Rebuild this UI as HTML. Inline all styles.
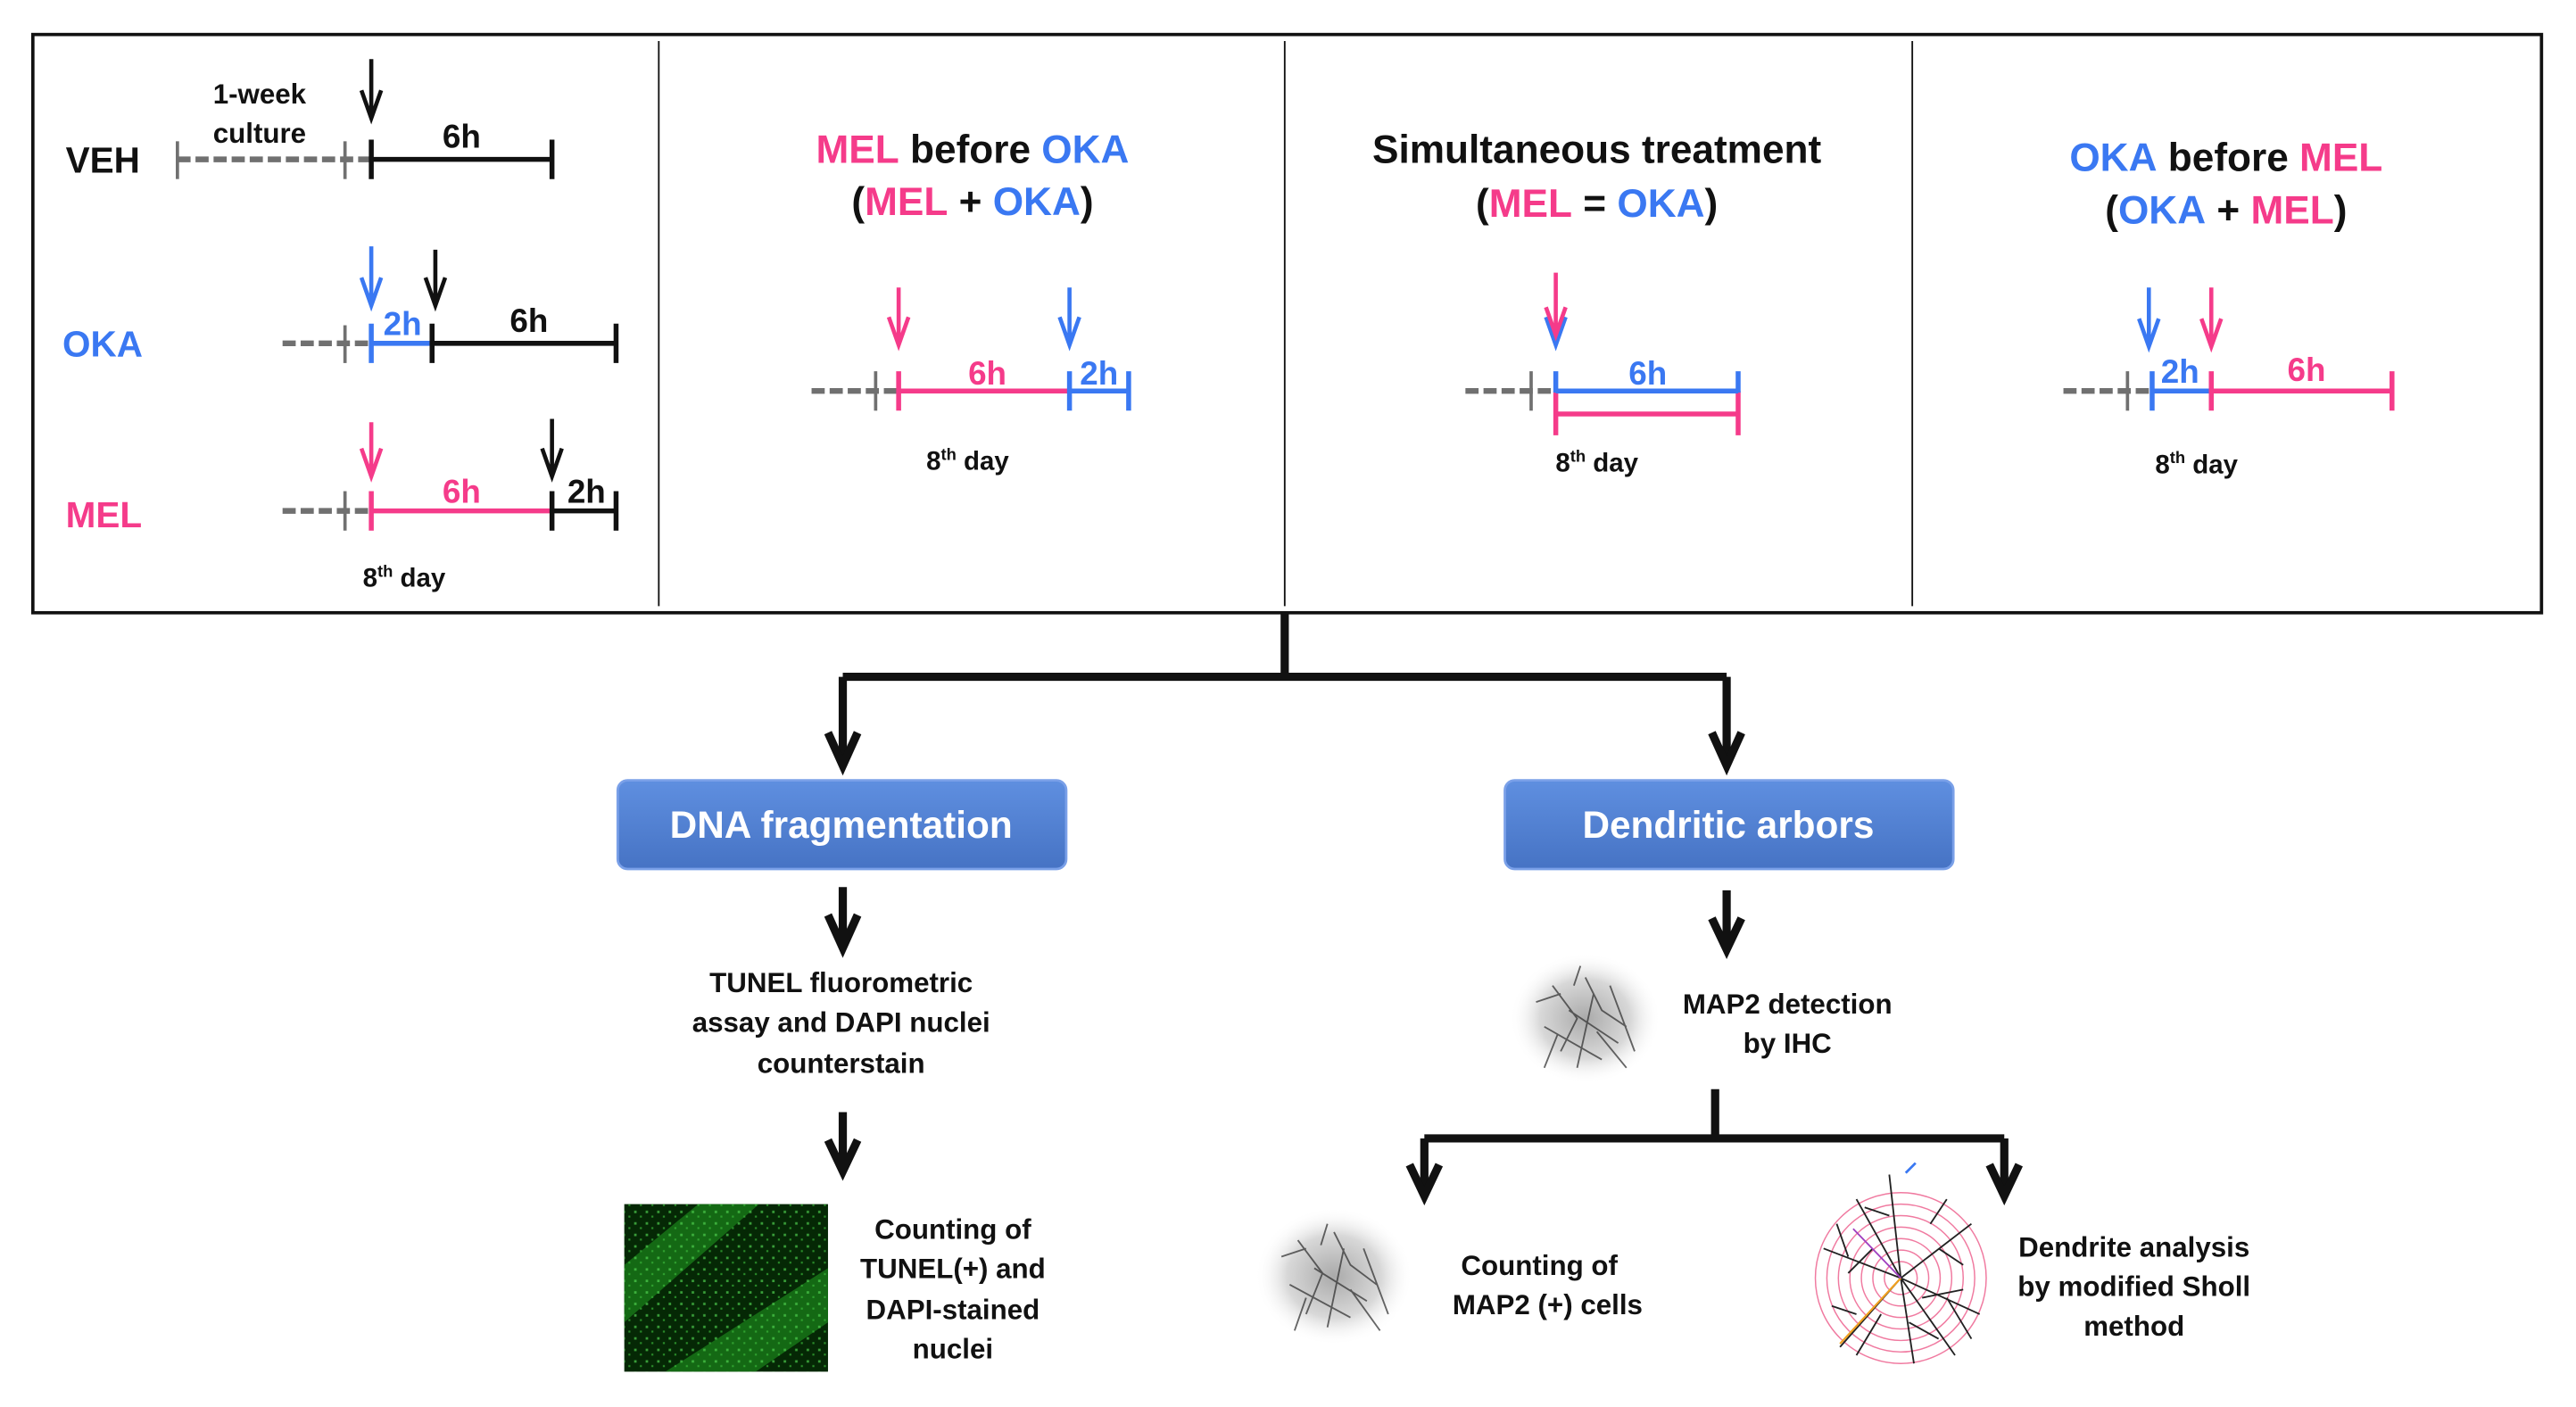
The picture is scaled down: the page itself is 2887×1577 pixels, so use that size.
<!DOCTYPE html>
<html><head><meta charset="utf-8"><style>
html,body{margin:0;padding:0;background:#fff;}
svg{display:block}
text{font-family:"Liberation Sans",Arial,sans-serif;font-weight:bold;}
</style></head><body>
<svg width="2887" height="1577" viewBox="0 0 1568 856.5" xmlns="http://www.w3.org/2000/svg">
<defs>
<linearGradient id="bx" x1="0" y1="0" x2="0" y2="1">
<stop offset="0" stop-color="#5f8fe0"/><stop offset="1" stop-color="#4673c4"/></linearGradient>
<radialGradient id="blob" cx="0.5" cy="0.5" r="0.5">
<stop offset="0" stop-color="#aaa"/><stop offset="0.6" stop-color="#d8d8d8"/><stop offset="1" stop-color="#fff" stop-opacity="0"/></radialGradient>
<pattern id="spk" width="7" height="7" patternUnits="userSpaceOnUse">
<rect x="1" y="2" width="1.5" height="1.5" fill="#4fd04f"/><rect x="4.5" y="5" width="1.2" height="1.2" fill="#3ab83a"/></pattern>
</defs>
<rect x="0" y="0" width="1568" height="856.5" fill="#fff"/>
<rect x="20" y="21" width="1527" height="352" fill="none" stroke="#111" stroke-width="2"/>
<g stroke="#111" stroke-width="1"><line x1="401" y1="25" x2="401" y2="369"/><line x1="782" y1="25" x2="782" y2="369"/><line x1="1164" y1="25" x2="1164" y2="369"/></g>

<g font-size="22"><text x="40" y="105" fill="#111">VEH</text><text x="38" y="217" fill="#3a78f2">OKA</text><text x="40" y="321" fill="#f53b8a">MEL</text></g>
<g font-size="17" text-anchor="middle" fill="#111"><text x="158" y="63">1-week</text><text x="158" y="87">culture</text></g>
<g stroke-width="3" fill="none">
<line x1="108" y1="97" x2="226" y2="97" stroke="#707070" stroke-width="3.5" stroke-dasharray="8,3"/>
<line x1="108" y1="86" x2="108" y2="109" stroke="#707070" stroke-width="2"/>
<line x1="210" y1="86" x2="210" y2="109" stroke="#707070" stroke-width="2"/>
<line x1="226" y1="97" x2="336" y2="97" stroke="#111"/>
<line x1="226" y1="85" x2="226" y2="109" stroke="#111"/>
<line x1="336" y1="85" x2="336" y2="109" stroke="#111"/>
<line x1="172" y1="209" x2="226" y2="209" stroke="#707070" stroke-width="3.5" stroke-dasharray="8,3"/>
<line x1="210" y1="198" x2="210" y2="221" stroke="#707070" stroke-width="2"/>
<line x1="226" y1="209" x2="263" y2="209" stroke="#3a78f2"/>
<line x1="226" y1="197" x2="226" y2="221" stroke="#3a78f2"/>
<line x1="263" y1="209" x2="375" y2="209" stroke="#111"/>
<line x1="263" y1="197" x2="263" y2="221" stroke="#111"/>
<line x1="375" y1="197" x2="375" y2="221" stroke="#111"/>
<line x1="172" y1="311" x2="226" y2="311" stroke="#707070" stroke-width="3.5" stroke-dasharray="8,3"/>
<line x1="210" y1="299" x2="210" y2="323" stroke="#707070" stroke-width="2"/>
<line x1="226" y1="311" x2="336" y2="311" stroke="#f53b8a"/>
<line x1="226" y1="299" x2="226" y2="323" stroke="#f53b8a"/>
<line x1="336" y1="311" x2="375" y2="311" stroke="#111"/>
<line x1="336" y1="299" x2="336" y2="323" stroke="#111"/>
<line x1="375" y1="299" x2="375" y2="323" stroke="#111"/>
</g>
<g font-size="20" text-anchor="middle">
<text x="281" y="90" fill="#111">6h</text>
<text x="245" y="204" fill="#3a78f2">2h</text><text x="322" y="202" fill="#111">6h</text>
<text x="281" y="306" fill="#f53b8a">6h</text><text x="357" y="306" fill="#111">2h</text>
</g>
<text x="246" y="357" font-size="16" text-anchor="middle" fill="#111">8<tspan font-size="10" dy="-6">th</tspan><tspan dy="6"> day</tspan></text>
<g fill="none" stroke-width="2.5">
<path d="M226 36V70M220 55L226 72L232 55" stroke="#111"/>
<path d="M226 150V184M220 169L226 186L232 169" stroke="#3a78f2"/>
<path d="M265 152V184M259 169L265 186L271 169" stroke="#111"/>
<path d="M226 257V288M220 273L226 290L232 273" stroke="#f53b8a"/>
<path d="M336 255V288M330 273L336 290L342 273" stroke="#111"/>
</g>

<g font-size="24" text-anchor="middle">
<text x="592" y="99"><tspan fill="#f53b8a">MEL</tspan><tspan fill="#111"> before </tspan><tspan fill="#3a78f2">OKA</tspan></text>
<text x="592" y="131"><tspan fill="#111">(</tspan><tspan fill="#f53b8a">MEL</tspan><tspan fill="#111"> + </tspan><tspan fill="#3a78f2">OKA</tspan><tspan fill="#111">)</tspan></text>
</g>
<g stroke-width="3" fill="none">
<line x1="494" y1="238" x2="547" y2="238" stroke="#707070" stroke-width="3.5" stroke-dasharray="8,3"/>
<line x1="533" y1="226" x2="533" y2="250" stroke="#707070" stroke-width="2"/>
<line x1="547" y1="238" x2="651" y2="238" stroke="#f53b8a"/>
<line x1="547" y1="226" x2="547" y2="250" stroke="#f53b8a"/>
<line x1="651" y1="238" x2="687" y2="238" stroke="#3a78f2"/>
<line x1="651" y1="226" x2="651" y2="250" stroke="#3a78f2"/>
<line x1="687" y1="226" x2="687" y2="250" stroke="#3a78f2"/>
</g>
<g font-size="20" text-anchor="middle"><text x="601" y="234" fill="#f53b8a">6h</text><text x="669" y="234" fill="#3a78f2">2h</text></g>
<g fill="none" stroke-width="2.5">
<path d="M547 175V208M541 193L547 210L553 193" stroke="#f53b8a"/>
<path d="M651 175V208M645 193L651 210L657 193" stroke="#3a78f2"/>
</g>
<text x="589" y="286" font-size="16" text-anchor="middle" fill="#111">8<tspan font-size="10" dy="-6">th</tspan><tspan dy="6"> day</tspan></text>

<g font-size="24" text-anchor="middle">
<text x="972" y="99" fill="#111">Simultaneous treatment</text>
<text x="972" y="132"><tspan fill="#111">(</tspan><tspan fill="#f53b8a">MEL</tspan><tspan fill="#111"> = </tspan><tspan fill="#3a78f2">OKA</tspan><tspan fill="#111">)</tspan></text>
</g>
<g stroke-width="3" fill="none">
<line x1="892" y1="238" x2="947" y2="238" stroke="#707070" stroke-width="3.5" stroke-dasharray="8,3"/>
<line x1="932" y1="226" x2="932" y2="250" stroke="#707070" stroke-width="2"/>
<line x1="947" y1="252" x2="1058" y2="252" stroke="#f53b8a"/>
<line x1="947" y1="238" x2="947" y2="265" stroke="#f53b8a"/>
<line x1="1058" y1="238" x2="1058" y2="265" stroke="#f53b8a"/>
<line x1="947" y1="238" x2="1058" y2="238" stroke="#3a78f2"/>
<line x1="947" y1="226" x2="947" y2="239" stroke="#3a78f2"/>
<line x1="1058" y1="226" x2="1058" y2="239" stroke="#3a78f2"/>
</g>
<text x="1003" y="234" font-size="20" text-anchor="middle" fill="#3a78f2">6h</text>
<g fill="none" stroke-width="2.5">
<path d="M941 193L947 210L953 193" stroke="#3a78f2"/>
<path d="M947 166V204M941 187L947 204L953 187" stroke="#f53b8a"/>
</g>
<text x="972" y="287" font-size="16" text-anchor="middle" fill="#111">8<tspan font-size="10" dy="-6">th</tspan><tspan dy="6"> day</tspan></text>

<g font-size="24" text-anchor="middle">
<text x="1355" y="104"><tspan fill="#3a78f2">OKA</tspan><tspan fill="#111"> before </tspan><tspan fill="#f53b8a">MEL</tspan></text>
<text x="1355" y="136"><tspan fill="#111">(</tspan><tspan fill="#3a78f2">OKA</tspan><tspan fill="#111"> + </tspan><tspan fill="#f53b8a">MEL</tspan><tspan fill="#111">)</tspan></text>
</g>
<g stroke-width="3" fill="none">
<line x1="1256" y1="238" x2="1310" y2="238" stroke="#707070" stroke-width="3.5" stroke-dasharray="8,3"/>
<line x1="1295" y1="226" x2="1295" y2="250" stroke="#707070" stroke-width="2"/>
<line x1="1310" y1="238" x2="1346" y2="238" stroke="#3a78f2"/>
<line x1="1310" y1="226" x2="1310" y2="250" stroke="#3a78f2"/>
<line x1="1346" y1="238" x2="1456" y2="238" stroke="#f53b8a"/>
<line x1="1346" y1="226" x2="1346" y2="250" stroke="#f53b8a"/>
<line x1="1456" y1="226" x2="1456" y2="250" stroke="#f53b8a"/>
</g>
<g font-size="20" text-anchor="middle"><text x="1327" y="233" fill="#3a78f2">2h</text><text x="1404" y="232" fill="#f53b8a">6h</text></g>
<g fill="none" stroke-width="2.5">
<path d="M1308 175V209M1302 194L1308 211L1314 194" stroke="#3a78f2"/>
<path d="M1346 175V209M1340 194L1346 211L1352 194" stroke="#f53b8a"/>
</g>
<text x="1337" y="288" font-size="16" text-anchor="middle" fill="#111">8<tspan font-size="10" dy="-6">th</tspan><tspan dy="6"> day</tspan></text>

<g fill="none" stroke="#111" stroke-width="5">
<path d="M782 373V412M513 412H1051M513 412V464M1051 412V464"/>
<path d="M504 446L513 466L522 446M1042 446L1051 466L1060 446"/>
<path d="M513 540V575M504 557L513 577L522 557"/>
<path d="M1051 542V576M1042 559L1051 578L1060 559"/>
<path d="M513 677V711M504 694L513 713L522 694"/>
<path d="M1044 663V693M867 693H1220M867 693V726M1220 693V726"/>
<path d="M858 709L867 728L876 709M1211 709L1220 728L1229 709"/>
</g>

<rect x="376" y="475" width="273" height="54" rx="6" fill="url(#bx)" stroke="#7aa0e8" stroke-width="1.5"/>
<rect x="916" y="475" width="273" height="54" rx="6" fill="url(#bx)" stroke="#7aa0e8" stroke-width="1.5"/>
<g font-size="23" fill="#fff" text-anchor="middle"><text x="512" y="510">DNA fragmentation</text><text x="1052" y="510">Dendritic arbors</text></g>

<g font-size="17" fill="#111" text-anchor="middle">
<text x="512" y="604">TUNEL fluorometric</text><text x="512" y="628">assay and DAPI nuclei</text><text x="512" y="653">counterstain</text>
<text x="580" y="754">Counting of</text><text x="580" y="778">TUNEL(+) and</text><text x="580" y="803">DAPI-stained</text><text x="580" y="827">nuclei</text>
<text x="1088" y="617">MAP2 detection</text><text x="1088" y="641">by IHC</text>
<text x="937" y="776">Counting of</text><text x="942" y="800">MAP2 (+) cells</text>
<text x="1299" y="765">Dendrite analysis</text><text x="1299" y="789">by modified Sholl</text><text x="1299" y="813">method</text>
</g>

<rect x="380" y="733" width="124" height="102" fill="#052805"/>
<path d="M380 770L425 733H462L380 805Z" fill="#167016" opacity="0.9"/>
<path d="M405 835L504 772V805L460 835Z" fill="#167016" opacity="0.9"/>
<rect x="380" y="733" width="124" height="102" fill="url(#spk)" opacity="0.7"/>

<ellipse cx="965" cy="620" rx="46" ry="40" fill="url(#blob)"/>
<g stroke="#333" stroke-width="1" fill="none" opacity="0.75">
<path d="M945 600L960 620L950 640M965 595L975 615L990 625M955 615L985 635M970 605L960 650M940 625L975 645M935 610L950 605M980 600L995 640M948 630L940 650M962 588L958 600M972 628L990 650"/>
</g>
<ellipse cx="812" cy="777" rx="48" ry="42" fill="url(#blob)"/>
<g stroke="#333" stroke-width="1" fill="none" opacity="0.75">
<path d="M790 755L805 775L795 800M812 750L822 770L838 782M800 772L832 792M818 760L808 808M785 782L822 802M780 765L795 760M830 760L845 800M795 790L788 810M808 745L804 758M822 785L840 810"/>
</g>

<g fill="none" stroke="#f07aa0" stroke-width="0.8">
<circle cx="1157" cy="778" r="52"/><circle cx="1157" cy="778" r="45"/><circle cx="1157" cy="778" r="38"/><circle cx="1157" cy="778" r="31"/><circle cx="1157" cy="778" r="24"/><circle cx="1157" cy="778" r="17"/><circle cx="1157" cy="778" r="10"/>
</g>
<g stroke="#222" stroke-width="1" fill="none">
<path d="M1157 778L1150 715M1157 778L1200 745M1157 778L1205 800M1157 778L1120 820M1157 778L1110 760M1157 778L1165 830M1150 740L1135 735M1180 760L1195 770M1130 800L1115 795M1162 805L1180 815M1125 765L1118 745M1185 790L1200 815M1157 778L1130 730M1157 778L1190 825M1140 760L1125 775M1175 745L1185 730M1145 800L1130 825M1170 790L1195 785"/>
</g>
<path d="M1157 778L1120 818" stroke="#f0a020" stroke-width="1.2"/>
<path d="M1157 778L1128 748" stroke="#a040c0" stroke-width="1"/>
<path d="M1160 714L1166 708" stroke="#3a78f2" stroke-width="1.5"/>
</svg>
</body></html>
